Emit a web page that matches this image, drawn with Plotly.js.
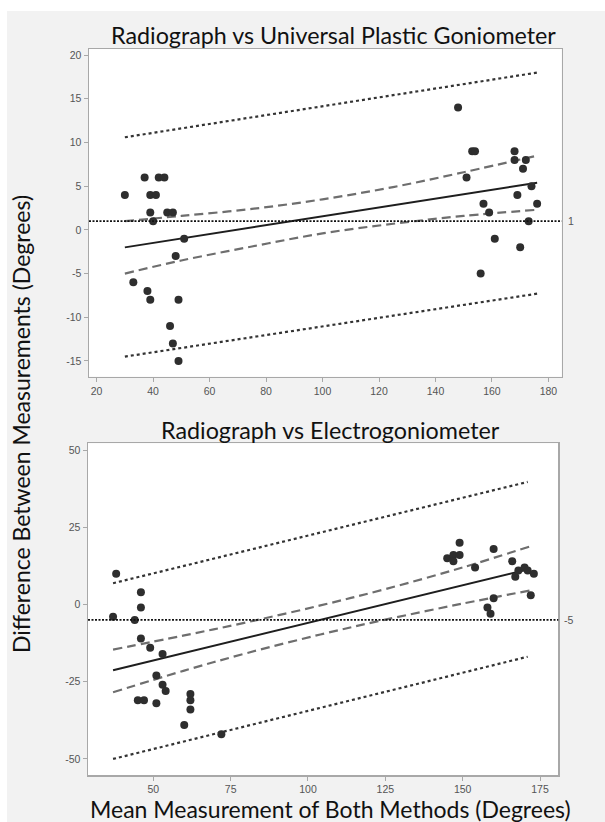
<!DOCTYPE html>
<html>
<head>
<meta charset="utf-8">
<script src="https://cdn.plot.ly/plotly-3.0.1.min.js"></script>
<style>
  html, body { margin: 0; padding: 0; background: #ffffff; }
  #wrap { position: relative; width: 605px; height: 822px; }
  #bg { position: absolute; left: 7px; top: 11px; right: 0; bottom: 0; background: #f2f2f2; }
  #chart { position: absolute; left: 0; top: 0; width: 605px; height: 822px; }
</style>
</head>
<body>
<div id="wrap"><div id="bg"></div><div id="chart"></div></div>
<script>
// ---------- Top panel: Radiograph vs Universal Plastic Goniometer ----------
const upgMean = [30,33,37,38,39,39,39,40,41,42,44,45,47,46,47,48,49,49,51,
                 148,151,153,154,156,157,159,161,168,168,169,170,171,172,173,174,176];
const upgDiff = [4,-6,6,-7,4,2,-8,1,4,6,6,2,2,-11,-13,-3,-8,-15,-1,
                 14,6,9,9,-5,3,2,-1,9,8,4,-2,7,8,1,5,3];
const upgFitX = [30, 176];
const upgFitY = [-2.0, 5.4];
const upgBandX = [30, 50, 75, 100, 125, 150, 176];
const upgBandUpper = [1.0, 1.6, 2.4, 3.5, 4.9, 6.6, 8.5];
const upgBandLower = [-5.0, -3.5, -1.9, -0.4, 0.7, 1.6, 2.3];
const upgPredX = [30, 176];
const upgPredUpper = [10.6, 18.0];
const upgPredLower = [-14.5, -7.3];
const upgBias = 1;
const upgXTicks = [20, 40, 60, 80, 100, 120, 140, 160, 180];
const upgYTicks = [-15, -10, -5, 0, 5, 10, 15, 20];

// ---------- Bottom panel: Radiograph vs Electrogoniometer ----------
const egMean = [37,38,44,45,47,46,46,46,49,51,51,53,53,54,60,62,62,62,72,
                145,147,147,149,149,154,158,159,160,160,166,167,168,170,171,172,173];
const egDiff = [-4,10,-5,-31,-31,4,-1,-11,-14,-23,-32,-16,-26,-28,-39,-29,-31,-34,-42,
                15,16,14,20,16,12,-1,-3,18,2,14,9,11,12,11,3,10];
const egFitX = [37, 172];
const egFitY = [-21.3, 11.6];
const egBandX = [37, 60, 80, 104, 125, 150, 172];
const egBandUpper = [-14.6, -10.0, -5.8, -0.3, 5.0, 12.0, 18.9];
const egBandLower = [-28.4, -21.4, -15.8, -9.7, -4.9, 0.3, 4.6];
const egPredX = [37, 171];
const egPredUpper = [6.9, 39.7];
const egPredLower = [-50, -16.9];
const egBias = -5;
const egXTicks = [50, 75, 100, 125, 150, 175];
const egYTicks = [-50, -25, 0, 25, 50];

const titles = ["Radiograph vs Universal Plastic Goniometer", "Radiograph vs Electrogoniometer"];
const xTitle = "Mean Measurement of Both Methods (Degrees)";
const yTitle = "Difference Between Measurements (Degrees)";

const W = 605, H = 822;
const fontTitle = "Lato, 'Open Sans', sans-serif";
const fontTick = "'Liberation Sans', Arial, sans-serif";

function panel(xa, ya, mx, dy, fx, fy, bx, bu, bl, px, pu, pl) {
  return [
    {x: px, y: pu, xaxis: xa, yaxis: ya, mode: 'lines', line: {color: '#333', width: 2.2, dash: '3px,3px'}, hoverinfo: 'skip'},
    {x: px, y: pl, xaxis: xa, yaxis: ya, mode: 'lines', line: {color: '#333', width: 2.2, dash: '3px,3px'}, hoverinfo: 'skip'},
    {x: bx, y: bu, xaxis: xa, yaxis: ya, mode: 'lines', line: {color: '#6e6e6e', width: 2.2, dash: '9px,5px', shape: 'spline'}, hoverinfo: 'skip'},
    {x: bx, y: bl, xaxis: xa, yaxis: ya, mode: 'lines', line: {color: '#6e6e6e', width: 2.2, dash: '9px,5px', shape: 'spline'}, hoverinfo: 'skip'},
    {x: fx, y: fy, xaxis: xa, yaxis: ya, mode: 'lines', line: {color: '#1e1e1e', width: 2}, hoverinfo: 'skip'},
    {x: mx, y: dy, xaxis: xa, yaxis: ya, mode: 'markers', marker: {color: '#2e2e2e', size: 8}}
  ];
}

const data = [].concat(
  panel('x', 'y', upgMean, upgDiff, upgFitX, upgFitY, upgBandX, upgBandUpper, upgBandLower, upgPredX, upgPredUpper, upgPredLower),
  panel('x2', 'y2', egMean, egDiff, egFitX, egFitY, egBandX, egBandUpper, egBandLower, egPredX, egPredUpper, egPredLower)
);

function axis(domain, range, ticks, anchor) {
  return {
    domain: domain, range: range, anchor: anchor,
    tickmode: 'array', tickvals: ticks, ticktext: ticks.map(String),
    showgrid: false, zeroline: false,
    showline: true, mirror: true, linecolor: '#a8a8a8', linewidth: 1.5,
    ticks: 'outside', ticklen: 4, tickcolor: '#a8a8a8', tickwidth: 1,
    tickfont: {family: fontTick, size: 10.5, color: '#555'}
  };
}

const layout = {
  width: W, height: H,
  margin: {l: 0, r: 0, t: 0, b: 0},
  paper_bgcolor: 'rgba(0,0,0,0)',
  plot_bgcolor: '#ffffff',
  showlegend: false,
  xaxis: axis([89/W, 561.7/W], [17.3, 184.7], upgXTicks, 'y'),
  yaxis: axis([1 - 376.7/H, 1 - 49/H], [-16.8, 20.7], upgYTicks, 'x'),
  xaxis2: axis([88/W, 558.3/W], [28.9, 180.9], egXTicks, 'y2'),
  yaxis2: axis([1 - 775/H, 1 - 443.3/H], [-55.2, 52.2], egYTicks, 'x2'),
  shapes: [
    {type: 'line', xref: 'x domain', yref: 'y', x0: 0, x1: 1, y0: upgBias, y1: upgBias,
     line: {color: '#111', width: 1.8, dash: '2px,1.5px'}},
    {type: 'line', xref: 'x2 domain', yref: 'y2', x0: 0, x1: 1, y0: egBias, y1: egBias,
     line: {color: '#111', width: 1.8, dash: '2px,1.5px'}}
  ],
  annotations: [
    {text: String(upgBias), xref: 'x domain', yref: 'y', x: 1, y: upgBias, xanchor: 'left', xshift: 4,
     showarrow: false, font: {family: fontTick, size: 10.5, color: '#555'}},
    {text: String(egBias), xref: 'x2 domain', yref: 'y2', x: 1, y: egBias, xanchor: 'left', xshift: 4,
     showarrow: false, font: {family: fontTick, size: 10.5, color: '#555'}},
    {text: titles[0], xref: 'paper', yref: 'paper', x: 333/W, y: 1 - 35/H, xanchor: 'center', yanchor: 'middle',
     showarrow: false, font: {family: fontTitle, size: 23.3, color: '#111'}},
    {text: titles[1], xref: 'paper', yref: 'paper', x: 330/W, y: 1 - 430/H, xanchor: 'center', yanchor: 'middle',
     showarrow: false, font: {family: fontTitle, size: 23.3, color: '#111'}},
    {text: xTitle, xref: 'paper', yref: 'paper', x: 330/W, y: 1 - 809/H, xanchor: 'center', yanchor: 'middle',
     showarrow: false, font: {family: fontTitle, size: 23, color: '#111'}},
    {text: yTitle, xref: 'paper', yref: 'paper', x: 21/W, y: 1 - 424/H, xanchor: 'center', yanchor: 'middle',
     textangle: -90, showarrow: false, font: {family: fontTitle, size: 23, color: '#111'}}
  ]
};

Plotly.newPlot('chart', data, layout, {displayModeBar: false, staticPlot: true});
</script>
</body>
</html>
